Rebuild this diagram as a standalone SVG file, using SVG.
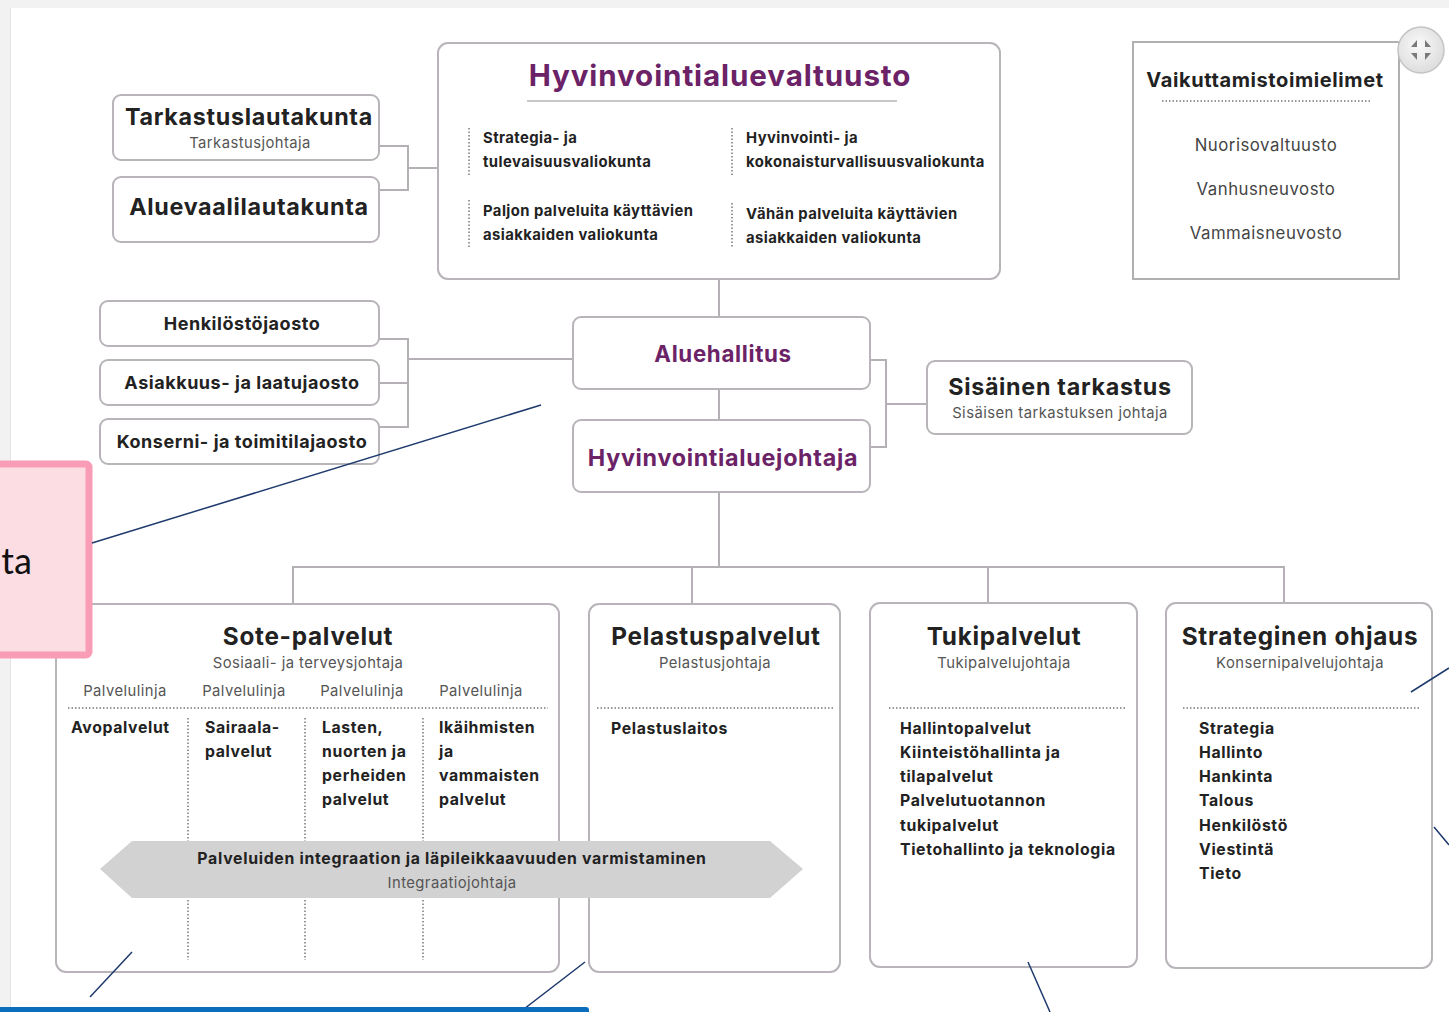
<svg xmlns="http://www.w3.org/2000/svg" width="1449" height="1012" viewBox="0 0 1449 1012">
<defs>
<style>
.box{fill:#fff;stroke:#b8b4ba;stroke-width:2}
.conn{fill:none;stroke:#b5b0b6;stroke-width:2}
.dot{fill:none;stroke:#9a9a9a;stroke-width:2;stroke-dasharray:1.5 2}
.t{font-family:Inter,"Noto Sans","Liberation Sans",sans-serif;fill:#222;letter-spacing:0.03em}
.h{font-weight:700;text-anchor:middle}
.sub{font-size:14.8px;fill:#555;text-anchor:middle}
.it{font-size:15.8px;font-weight:700;letter-spacing:0.04em}
.p{fill:#6b2266}
.ann{stroke:#1f3a6e;stroke-width:1.5;fill:none}
</style>
<radialGradient id="btn" cx="0.45" cy="0.4" r="0.7">
<stop offset="0" stop-color="#fafafa"/><stop offset="1" stop-color="#d8d8d8"/>
</radialGradient>
</defs>
<rect x="0" y="0" width="1449" height="1012" fill="#f2f2f2"/>
<rect x="11" y="8" width="1438" height="1004" fill="#fff"/>
<line x1="10.5" y1="8" x2="10.5" y2="1012" stroke="#e4e4e4"/>

<g id="connectors">
<path class="conn" d="M379 146H408V190H379M408 168H438"/>
<path class="conn" d="M379 339H408V427H379M379 383H408M408 359H573"/>
<path class="conn" d="M719 279V317M719 389V420M719 492V567"/>
<path class="conn" d="M870 360H886V447H870M886 404H927"/>
<path class="conn" d="M293 604V567H1284V603M692 567V604M988 567V603"/>
</g>

<g id="tarkastuslautakunta">
<rect class="box" x="113" y="95" width="266" height="65" rx="8"/>
<text class="t h" x="249" y="125" font-size="23.3">Tarkastuslautakunta</text>
<text class="t sub" x="250" y="148">Tarkastusjohtaja</text>
</g>
<g id="aluevaalilautakunta">
<rect class="box" x="113" y="177" width="266" height="65" rx="8"/>
<text class="t h" x="249" y="215" font-size="23.3">Aluevaalilautakunta</text>
</g>

<g id="valtuusto">
<rect class="box" x="438" y="43" width="562" height="236" rx="10"/>
<text class="t h p" x="720" y="86" font-size="29.6">Hyvinvointialuevaltuusto</text>
<line x1="527" y1="101" x2="897" y2="101" stroke="#c8c8c8" stroke-width="2"/>
<path class="dot" d="M469 128V175M469 200V247M732 128V175M732 203V248"/>
<g class="t" font-size="14.8" font-weight="700">
<text x="483" y="143">Strategia- ja</text>
<text x="483" y="167">tulevaisuusvaliokunta</text>
<text x="483" y="216">Paljon palveluita käyttävien</text>
<text x="483" y="240">asiakkaiden valiokunta</text>
<text x="746" y="143">Hyvinvointi- ja</text>
<text x="746" y="167">kokonaisturvallisuusvaliokunta</text>
<text x="746" y="219">Vähän palveluita käyttävien</text>
<text x="746" y="243">asiakkaiden valiokunta</text>
</g>
</g>

<g id="vaikuttamistoimielimet">
<rect x="1133" y="42" width="266" height="237" fill="#fff" stroke="#b0b0b0" stroke-width="2"/>
<text class="t h" x="1265" y="87" font-size="20">Vaikuttamistoimielimet</text>
<line class="dot" x1="1162" y1="101" x2="1372" y2="101"/>
<g class="t" font-size="16.8" text-anchor="middle">
<text x="1266" y="151" fill="#444">Nuorisovaltuusto</text>
<text x="1266" y="195" fill="#444">Vanhusneuvosto</text>
<text x="1266" y="239" fill="#444">Vammaisneuvosto</text>
</g>
</g>

<g id="expand-button">
<circle cx="1421" cy="50" r="23" fill="url(#btn)" stroke="#c4c4c4" stroke-width="1.5"/>
<g fill="#7a7a7a">
<path d="M1411 47L1417 40V47Z"/><path d="M1425 40L1431 47H1425Z"/>
<path d="M1411 53H1417V60Z"/><path d="M1425 53H1431L1425 60Z"/>
</g>
</g>

<g id="henkilostojaosto">
<rect class="box" x="100" y="301" width="279" height="45" rx="8"/>
<text class="t h" x="242" y="330" font-size="18">Henkilöstöjaosto</text>
</g>
<g id="asiakkuusjaosto">
<rect class="box" x="100" y="360" width="279" height="45" rx="8"/>
<text class="t h" x="242" y="389" font-size="18">Asiakkuus- ja laatujaosto</text>
</g>
<g id="konsernijaosto">
<rect class="box" x="100" y="419" width="279" height="45" rx="8"/>
<text class="t h" x="242" y="448" font-size="18">Konserni- ja toimitilajaosto</text>
</g>

<g id="aluehallitus">
<rect class="box" x="573" y="317" width="297" height="72" rx="8"/>
<text class="t h p" x="723" y="362" font-size="22.3">Aluehallitus</text>
</g>
<g id="hyvinvointialuejohtaja">
<rect class="box" x="573" y="420" width="297" height="72" rx="8"/>
<text class="t h p" x="723" y="466" font-size="23.3">Hyvinvointialuejohtaja</text>
</g>
<g id="sisainen-tarkastus">
<rect class="box" x="927" y="361" width="265" height="73" rx="8"/>
<text class="t h" x="1060" y="395" font-size="23.3">Sisäinen tarkastus</text>
<text class="t sub" x="1060" y="418">Sisäisen tarkastuksen johtaja</text>
</g>

<g id="sote">
<rect class="box" x="56" y="604" width="503" height="368" rx="10"/>
<text class="t h" x="308" y="645" font-size="24.3">Sote-palvelut</text>
<text class="t sub" x="308" y="668">Sosiaali- ja terveysjohtaja</text>
<g class="t sub">
<text x="125" y="696">Palvelulinja</text><text x="244" y="696">Palvelulinja</text>
<text x="362" y="696">Palvelulinja</text><text x="481" y="696">Palvelulinja</text>
</g>
<line class="dot" x1="68" y1="708" x2="548" y2="708"/>
<path class="dot" d="M188 718V960M305 718V960M423 718V960"/>
<g class="t it">
<text x="71" y="733">Avopalvelut</text>
<text x="205" y="733">Sairaala-</text><text x="205" y="757">palvelut</text>
<text x="322" y="733">Lasten,</text><text x="322" y="757">nuorten ja</text><text x="322" y="781">perheiden</text><text x="322" y="805">palvelut</text>
<text x="439" y="733">Ikäihmisten</text><text x="439" y="757">ja</text><text x="439" y="781">vammaisten</text><text x="439" y="805">palvelut</text>
</g>
</g>

<g id="pelastus">
<rect class="box" x="589" y="604" width="251" height="368" rx="10"/>
<text class="t h" x="716" y="645" font-size="24.3">Pelastuspalvelut</text>
<text class="t sub" x="715" y="668">Pelastusjohtaja</text>
<line class="dot" x1="597" y1="708" x2="833" y2="708"/>
<text class="t it" x="611" y="734">Pelastuslaitos</text>
</g>

<g id="integraatio">
<polygon points="132,841 770,841 803,869 770,898 132,898 100,869" fill="#d2d2d2"/>
<text class="t h" x="452" y="864" font-size="15.8" style="letter-spacing:0.045em">Palveluiden integraation ja läpileikkaavuuden varmistaminen</text>
<text class="t sub" x="452" y="888" font-size="13.8">Integraatiojohtaja</text>
</g>

<g id="tukipalvelut">
<rect class="box" x="870" y="603" width="267" height="364" rx="10"/>
<text class="t h" x="1004" y="645" font-size="24.3">Tukipalvelut</text>
<text class="t sub" x="1004" y="668">Tukipalvelujohtaja</text>
<line class="dot" x1="889" y1="708" x2="1127" y2="708"/>
<g class="t it">
<text x="900" y="734">Hallintopalvelut</text>
<text x="900" y="758">Kiinteistöhallinta ja</text>
<text x="900" y="782">tilapalvelut</text>
<text x="900" y="806">Palvelutuotannon</text>
<text x="900" y="831">tukipalvelut</text>
<text x="900" y="855">Tietohallinto ja teknologia</text>
</g>
</g>

<g id="strateginen">
<rect class="box" x="1166" y="603" width="266" height="365" rx="10"/>
<text class="t h" x="1300" y="645" font-size="24.3">Strateginen ohjaus</text>
<text class="t sub" x="1300" y="668">Konsernipalvelujohtaja</text>
<line class="dot" x1="1183" y1="708" x2="1420" y2="708"/>
<g class="t it">
<text x="1199" y="734">Strategia</text><text x="1199" y="758">Hallinto</text>
<text x="1199" y="782">Hankinta</text><text x="1199" y="806">Talous</text>
<text x="1199" y="831">Henkilöstö</text><text x="1199" y="855">Viestintä</text>
<text x="1199" y="879">Tieto</text>
</g>
</g>

<g id="annotations">
<rect x="-10" y="464" width="99" height="191" rx="3" fill="#fddde4" stroke="#f99cb5" stroke-width="7"/>
<text x="32" y="574" font-family="Carlito,'Liberation Sans',sans-serif" font-size="38" text-anchor="end" fill="#111">ta</text>
<path class="ann" d="M92 543L541 405M90 997L132 952M520 1012L585 962M1028 962L1050 1012M1411 692L1449 668M1434 827L1449 845"/>
<rect x="-10" y="1007" width="599" height="12" rx="3" fill="#0a6ebd"/>
</g>
</svg>
